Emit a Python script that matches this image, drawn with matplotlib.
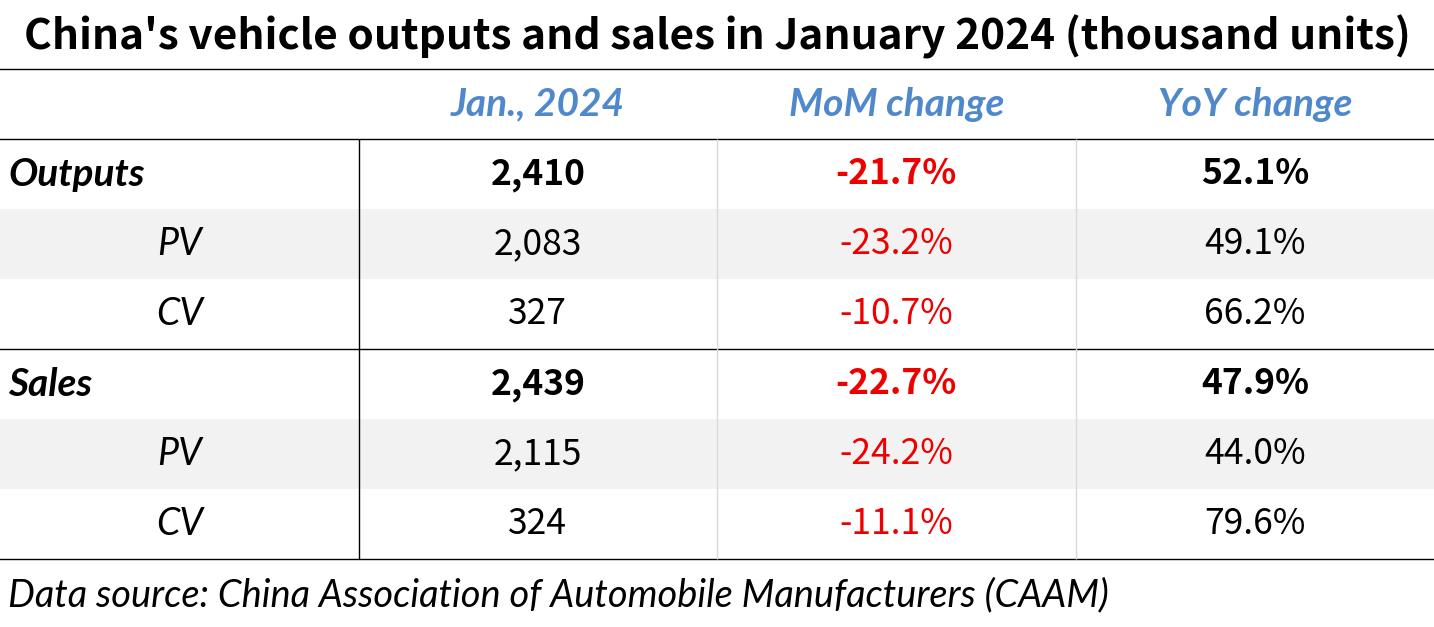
import matplotlib.pyplot as plt

# table data
title = "China's vehicle outputs and sales in January 2024 (thousand units)"
headers = ["Jan., 2024", "MoM change", "YoY change"]
row_labels = ["Outputs", "PV", "CV", "Sales", "PV", "CV"]
is_total = [True, False, False, True, False, False]
volume = ["2,410", "2,083", "327", "2,439", "2,115", "324"]
mom = ["-21.7%", "-23.2%", "-10.7%", "-22.7%", "-24.2%", "-11.1%"]
yoy = ["52.1%", "49.1%", "66.2%", "47.9%", "44.0%", "79.6%"]
source = "Data source: China Association of Automobile Manufacturers (CAAM)"

BLUE = "#4F88CB"
RED = "#EE0000"
GREY_ROW = "#F2F2F2"
SANS = "Noto Sans CJK SC"
ITAL = "Lato"

W, H = 1434, 627
fig = plt.figure(figsize=(W / 100, H / 100), dpi=100)
ax = fig.add_axes([0, 0, 1, 1])
ax.set_xlim(0, W)
ax.set_ylim(H, 0)
ax.axis("off")

col_w = W / 4
top = 69
row_h = 70
body_top = top + row_h
n = len(row_labels)

# grey bands for sub rows
for i in range(n):
    y0 = body_top + i * row_h
    if i % 3 == 1:
        ax.axhspan(y0, y0 + row_h, color=GREY_ROW, lw=0, zorder=0)

# lines
ax.axhline(top, color="black", lw=1)
for y in [body_top, body_top + 3 * row_h, body_top + 6 * row_h]:
    ax.axhline(y, color="black", lw=1)
ax.vlines(col_w, body_top, body_top + n * row_h, color="black", lw=1)
for c in [2, 3]:
    ax.vlines(col_w * c, body_top, body_top + n * row_h, color="#D9D9D9", lw=1)

ax.text(W / 2, 37, title, ha="center", va="center", fontsize=30.5,
        fontweight="bold", family=SANS)

for j, h in enumerate(headers):
    ax.text(col_w * (j + 1.5), top + row_h / 2, h, ha="center", va="center",
            fontsize=28, fontweight="bold", style="italic", color=BLUE, family=ITAL)

for i in range(n):
    yc = body_top + i * row_h + row_h / 2
    fw = "bold" if is_total[i] else "normal"
    if is_total[i]:
        ax.text(8, yc, row_labels[i], ha="left", va="center", fontsize=28,
                fontweight="bold", style="italic", family=ITAL)
    else:
        ax.text(col_w / 2, yc, row_labels[i], ha="center", va="center",
                fontsize=27, style="italic", family=ITAL)
    ax.text(col_w * 1.5, yc, volume[i], ha="center", va="center",
            fontsize=25.5, fontweight=fw, family=SANS)
    ax.text(col_w * 2.5, yc, mom[i], ha="center", va="center",
            fontsize=25.5, fontweight=fw, color=RED, family=SANS)
    ax.text(col_w * 3.5, yc, yoy[i], ha="center", va="center",
            fontsize=25.5, fontweight=fw, family=SANS)

ax.text(8, 595, source, ha="left", va="center", fontsize=27.4,
        style="italic", family=ITAL)

fig.savefig("out.png", dpi=100, facecolor="white")
